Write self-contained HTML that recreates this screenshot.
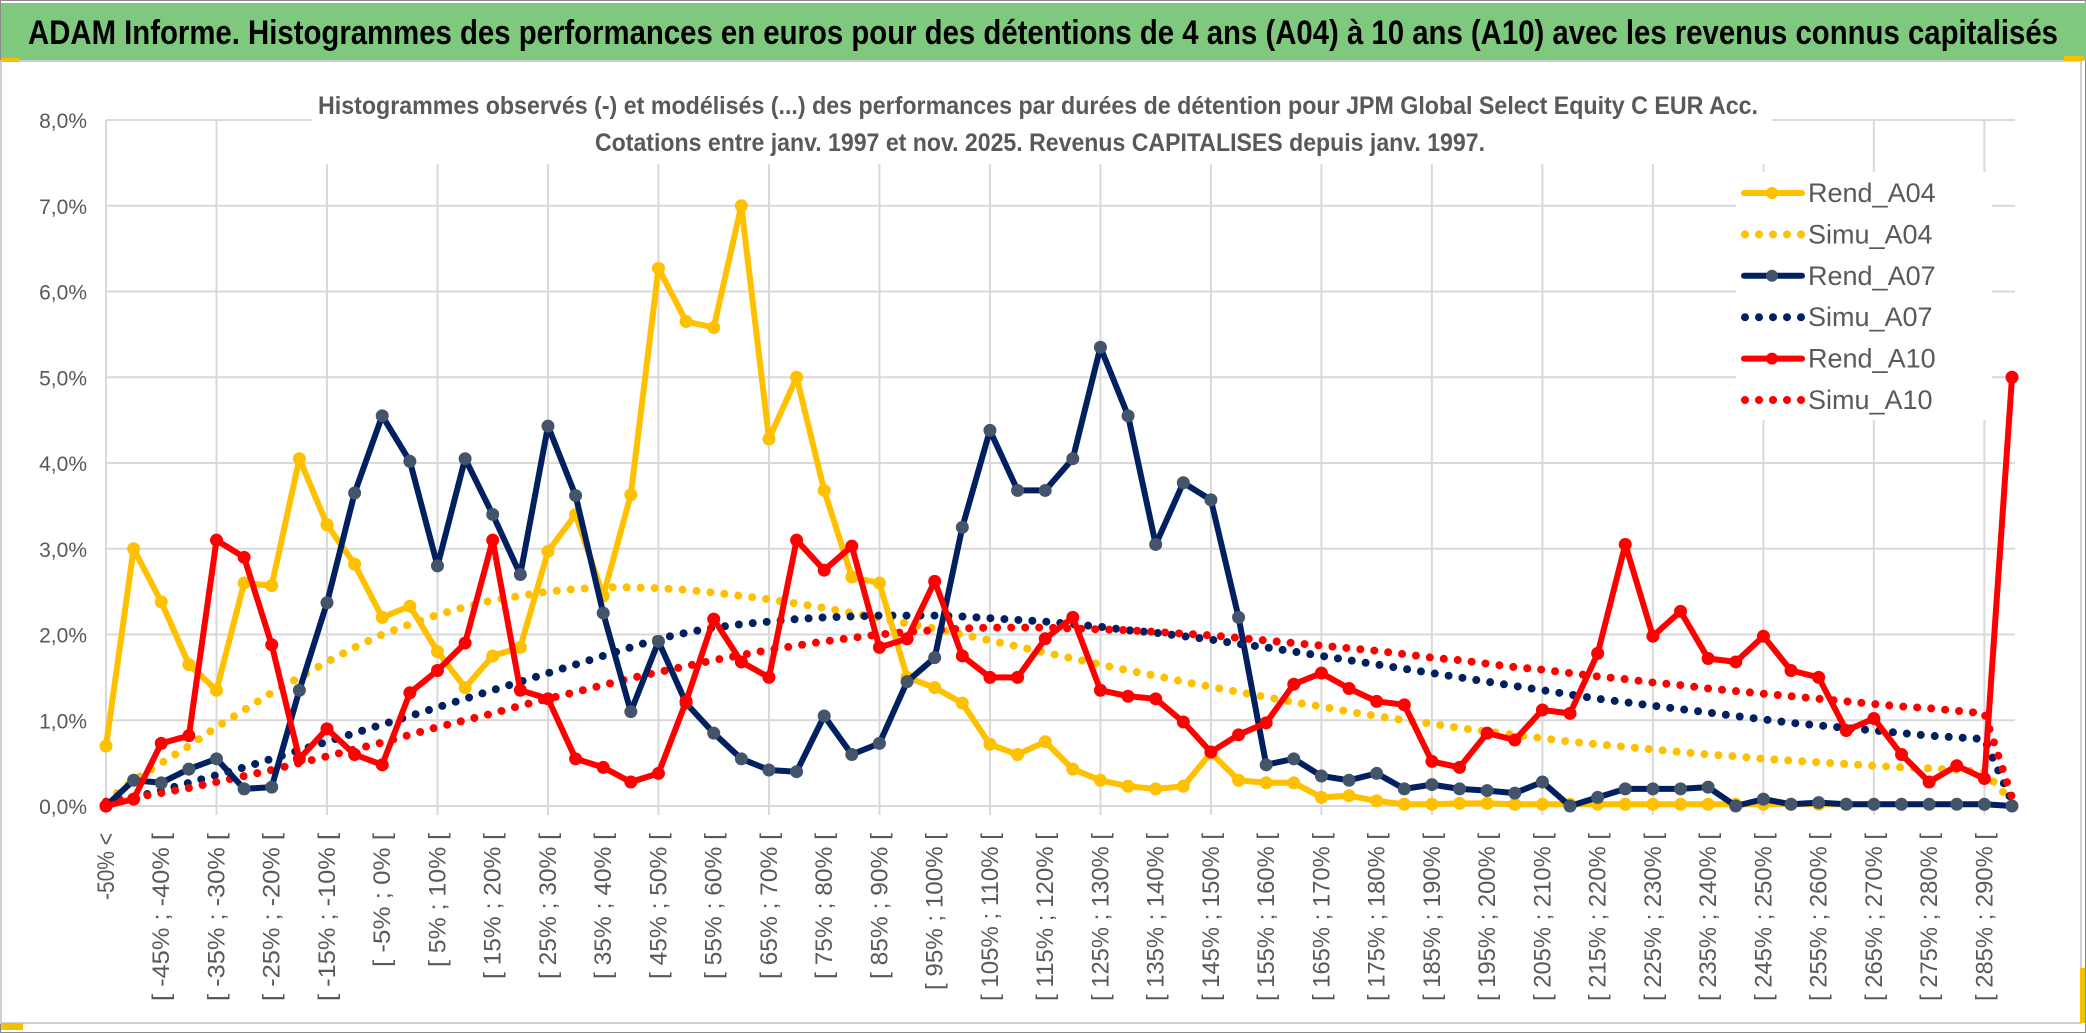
<!DOCTYPE html>
<html><head><meta charset="utf-8"><style>
html,body{margin:0;padding:0;background:#fff;}
svg{display:block;}
text{font-family:"Liberation Sans",sans-serif;}
</style></head><body>
<svg id="chart" width="2086" height="1033" viewBox="0 0 2086 1033" xmlns="http://www.w3.org/2000/svg">
<rect x="0" y="0" width="2086" height="1033" fill="#fff"/>
<rect x="0.5" y="0.5" width="2085" height="1032" fill="none" stroke="#8a8a8a"/>
<rect x="1" y="3" width="2085" height="57" fill="#7ec97e"/>
<text x="1043" y="44" text-anchor="middle" font-size="34" font-weight="bold" fill="#000" textLength="2030" lengthAdjust="spacingAndGlyphs">ADAM Informe. Histogrammes des performances en euros pour des détentions de 4 ans (A04) à 10 ans (A10) avec les revenus connus capitalisés</text>
<rect x="1" y="61" width="2080" height="962" fill="#fff" stroke="#d0d0d0" stroke-width="2"/>
<rect x="1" y="58" width="18" height="4" fill="#f5c000"/>
<rect x="1" y="1023" width="22" height="7" fill="#f5c000"/>
<rect x="2064" y="56" width="20" height="5" fill="#f5c000"/>
<rect x="2080" y="968" width="5" height="55" fill="#f5c000"/>
<g id="grid"></g>
<g id="ylabels"></g>
<g id="xlabels"></g>
<rect x="312" y="86" width="1460" height="78" fill="#fff"/>
<text x="1038" y="114" text-anchor="middle" font-size="25" font-weight="bold" fill="#595959" textLength="1440" lengthAdjust="spacingAndGlyphs">Histogrammes observés (-) et modélisés (...) des performances  par durées de détention pour JPM Global Select Equity C EUR Acc.</text>
<text x="1040" y="151" text-anchor="middle" font-size="25" font-weight="bold" fill="#595959" textLength="890" lengthAdjust="spacingAndGlyphs">Cotations entre janv. 1997 et nov. 2025. Revenus CAPITALISES depuis janv. 1997.</text>
<rect x="1736" y="172" width="256" height="248" fill="#fff"/>
<g id="series"></g>
<g id="legend"></g>
</svg>
<script>
const categories = (function(){const c=["-50% <"];for(let a=-50;a<295;a+=5){c.push("[ "+a+"% ; "+(a+5)+"% [");}return c;})().slice(0,70);
const yTicks = [0,1,2,3,4,5,6,7,8];
const yTickLabels = ["0,0%","1,0%","2,0%","3,0%","4,0%","5,0%","6,0%","7,0%","8,0%"];
const rendA04 = [0.7,3.0,2.38,1.65,1.35,2.6,2.57,4.05,3.28,2.82,2.2,2.33,1.8,1.38,1.75,1.85,2.97,3.4,2.45,3.63,6.27,5.65,5.58,7.0,4.28,5.0,3.68,2.67,2.6,1.5,1.38,1.2,0.72,0.6,0.75,0.43,0.3,0.23,0.2,0.23,0.62,0.3,0.27,0.27,0.1,0.12,0.06,0.02,0.02,0.03,0.03,0.02,0.02,0.02,0.02,0.02,0.02,0.02,0.02,0.02,0.02,0.02,0.02,0.02,null,null,null,null,null,null];
const rendA07 = [0,0.3,0.27,0.43,0.55,0.2,0.22,1.35,2.37,3.65,4.55,4.02,2.8,4.05,3.4,2.7,4.43,3.62,2.25,1.1,1.92,1.2,0.85,0.55,0.42,0.4,1.05,0.6,0.73,1.45,1.73,3.25,4.38,3.68,3.68,4.05,5.35,4.55,3.05,3.77,3.57,2.2,0.48,0.55,0.35,0.3,0.38,0.2,0.25,0.2,0.18,0.15,0.28,0.0,0.1,0.2,0.2,0.2,0.22,0.0,0.08,0.02,0.04,0.02,0.02,0.02,0.02,0.02,0.02,0.0];
const rendA10 = [0,0.08,0.73,0.82,3.1,2.9,1.88,0.55,0.9,0.6,0.48,1.32,1.58,1.9,3.1,1.35,1.25,0.55,0.45,0.28,0.38,1.22,2.18,1.68,1.5,3.1,2.75,3.03,1.85,1.95,2.62,1.75,1.5,1.5,1.95,2.2,1.35,1.28,1.25,0.98,0.63,0.83,0.97,1.42,1.55,1.37,1.22,1.18,0.52,0.45,0.85,0.77,1.12,1.08,1.78,3.05,1.98,2.27,1.72,1.68,1.98,1.58,1.5,0.88,1.02,0.6,0.28,0.47,0.32,5.0];
const simuA04 = [0.05,0.3,0.5,0.7,0.92,1.12,1.32,1.5,1.68,1.85,2.0,2.12,2.23,2.32,2.4,2.45,2.5,2.53,2.55,2.55,2.54,2.52,2.49,2.45,2.41,2.36,2.31,2.25,2.19,2.13,2.07,2.0,1.93,1.86,1.79,1.72,1.65,1.58,1.52,1.45,1.39,1.33,1.27,1.21,1.16,1.1,1.05,1.0,0.96,0.91,0.87,0.83,0.79,0.75,0.72,0.69,0.66,0.63,0.6,0.58,0.55,0.53,0.51,0.49,0.47,0.45,0.44,0.42,0.4,0.05];
const simuA07 = [0.05,0.1,0.18,0.27,0.36,0.45,0.55,0.65,0.75,0.85,0.95,1.05,1.15,1.25,1.35,1.45,1.55,1.65,1.75,1.85,1.95,2.02,2.08,2.12,2.15,2.18,2.2,2.21,2.22,2.22,2.22,2.21,2.19,2.17,2.15,2.12,2.09,2.05,2.02,1.98,1.94,1.89,1.85,1.8,1.75,1.7,1.65,1.6,1.55,1.5,1.45,1.4,1.35,1.3,1.25,1.21,1.17,1.13,1.09,1.05,1.01,0.97,0.94,0.91,0.88,0.85,0.82,0.8,0.78,0.05];
const simuA10 = [0.05,0.1,0.15,0.21,0.28,0.35,0.42,0.5,0.58,0.66,0.74,0.83,0.92,1.0,1.08,1.17,1.25,1.33,1.41,1.49,1.56,1.63,1.7,1.76,1.82,1.87,1.92,1.96,2.0,2.03,2.05,2.07,2.08,2.08,2.08,2.07,2.06,2.05,2.03,2.01,1.99,1.96,1.93,1.9,1.87,1.84,1.81,1.77,1.73,1.7,1.66,1.62,1.59,1.55,1.51,1.48,1.44,1.41,1.37,1.34,1.31,1.28,1.25,1.22,1.19,1.16,1.14,1.11,1.08,0.1];
const legendNames = ["Rend_A04","Simu_A04","Rend_A07","Simu_A07","Rend_A10","Simu_A10"];

const NS="http://www.w3.org/2000/svg";
const X0=106, X1=2012, Y0=806, Y1=120, YMAX=8;
function xScale(i){return X0+(X1-X0)*i/(categories.length-1);}
function yScale(v){return Y0-(Y0-Y1)*v/YMAX;}
function mk(tag,attrs,parent){const e=document.createElementNS(NS,tag);for(const k in attrs)e.setAttribute(k,attrs[k]);parent.appendChild(e);return e;}

const grid=document.getElementById('grid');
yTicks.forEach(function(t){
  const l=mk('line',{x1:X0,x2:X1+3,y1:yScale(t),y2:yScale(t),stroke:'#d9d9d9','stroke-width':2},grid);
  
  
});
for(let i=0;i<categories.length;i+=4){
  const l=mk('line',{x1:xScale(i),x2:xScale(i),y1:Y1,y2:Y0+9,stroke:'#d9d9d9','stroke-width':2},grid);
  
  
}
const yl=document.getElementById('ylabels');
yTicks.forEach(function(t,k){
  const tx=mk('text',{x:87,y:yScale(t)+8,'text-anchor':'end','font-size':21,fill:'#595959'},yl);
  tx.textContent=yTickLabels[k];
  
  
});
const xl=document.getElementById('xlabels');
for(let i=0;i<categories.length;i+=2){
  const lab=categories[i];
  const x=xScale(i)+8, y=833;
  const tx=mk('text',{x:x,y:y,'text-anchor':'end','font-size':24,fill:'#595959',transform:'rotate(-90 '+x+' '+y+')',textLength:(lab.length*11.2).toFixed(0),lengthAdjust:'spacingAndGlyphs'},xl);
  tx.textContent=lab;
  
  
}
const sg=document.getElementById('series');
function pathFor(arr){let d='',pen=false;arr.forEach(function(v,i){if(v===null){pen=false;return;}d+=(pen?'L':'M')+xScale(i).toFixed(1)+' '+yScale(v).toFixed(1)+' ';pen=true;});return d;}
function dotted(arr,color,name){
  const p=mk('path',{d:pathFor(arr),fill:'none',stroke:color,'stroke-width':8,'stroke-linecap':'round','stroke-dasharray':'0 14'},sg);
  
  
}
function solid(arr,color,mcolor,name){
  const g=mk('g',{},sg);
  
  
  mk('path',{d:pathFor(arr),fill:'none',stroke:color,'stroke-width':6,'stroke-linejoin':'round'},g);
  arr.forEach(function(v,i){if(v===null)return;
    const c=mk('circle',{cx:xScale(i),cy:yScale(v),r:6.5,fill:mcolor},g);
    
    
  });
}
dotted(simuA04,'#ffc000','simu-a04-line');
dotted(simuA07,'#002060','simu-a07-line');
dotted(simuA10,'#ff0000','simu-a10-line');
solid(rendA04,'#ffc000','#ffc000','rend-a04-line');
solid(rendA07,'#002060','#44546a','rend-a07-line');
solid(rendA10,'#ff0000','#ff0000','rend-a10-line');

const lg=document.getElementById('legend');
const lcolors=['#ffc000','#ffc000','#002060','#002060','#ff0000','#ff0000'];
const lmark=['#ffc000',null,'#44546a',null,'#ff0000',null];
legendNames.forEach(function(n,k){
  const y=193+k*41.4;
  const g=mk('g',{},lg);
  
  
  if(lmark[k]){
    mk('line',{x1:1744,x2:1802,y1:y,y2:y,stroke:lcolors[k],'stroke-width':6,'stroke-linecap':'round'},g);
    mk('circle',{cx:1772,cy:y,r:6,fill:lmark[k]},g);
  } else {
    mk('line',{x1:1745,x2:1802,y1:y,y2:y,stroke:lcolors[k],'stroke-width':8,'stroke-linecap':'round','stroke-dasharray':'0 14'},g);
  }
  const t=mk('text',{x:1808,y:y+9,'font-size':27,fill:'#595959'},g);
  t.textContent=n;
});
</script>
</body></html>
